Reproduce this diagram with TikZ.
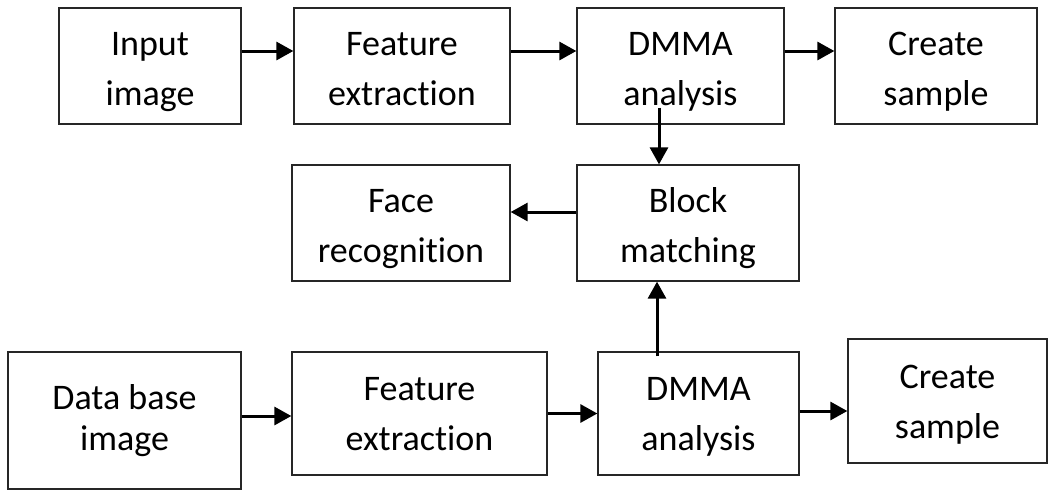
\documentclass[tikz,border=0pt]{standalone}
\usepackage{fontspec}
\setmainfont{Carlito}[Ligatures=NoCommon]
\usetikzlibrary{arrows.meta}
\begin{document}
\begin{tikzpicture}[x=1pt,y=-1pt,
  box/.style={draw=black!85, line width=1.3pt, inner sep=0pt, align=center,
    font=\fontsize{36}{50}\selectfont, text height=78pt, text depth=0pt},
  lowbox/.style={box, text height=74pt},
  arr/.style={line width=3pt, -{Triangle[length=17pt,width=18pt]}}]
\useasboundingbox (0,0) rectangle (1057,491);

% top row: input chain
\node[box, minimum width=182pt, minimum height=116pt] (in1) at (150,66) {Input\\image};
\node[box, minimum width=216pt, minimum height=116pt] (fe1) at (402,66) {Feature\\extraction};
\node[box, minimum width=207pt, minimum height=116pt] (dm1) at (680.5,66) {DMMA\\analysis};
\node[box, minimum width=202pt, minimum height=116pt] (cs1) at (936,66) {Create\\sample};

% middle row
\node[box, minimum width=218pt, minimum height=116pt] (fr) at (401,223) {Face\\recognition};
\node[box, minimum width=222pt, minimum height=116pt] (bm) at (688,223) {Block\\matching};

% bottom row: database chain
\node[box, minimum width=233pt, minimum height=137pt, font=\fontsize{36}{41}\selectfont, text height=60pt] (db) at (124.5,420.5) {Data base\\image};
\node[lowbox, minimum width=255pt, minimum height=123pt] (fe2) at (419.5,413.5) {Feature\\extraction};
\node[lowbox, minimum width=201pt, minimum height=123pt] (dm2) at (698.5,413.5) {DMMA\\analysis};
\node[lowbox, minimum width=199pt, minimum height=124pt] (cs2) at (947.5,401) {Create\\sample};

% connectors, top row
\draw[arr] ([yshift=15pt]in1.east) -- ([yshift=15pt]in1.east -| fe1.west);
\draw[arr] ([yshift=15pt]fe1.east) -- ([yshift=15pt]fe1.east -| dm1.west);
\draw[arr] ([yshift=15pt]dm1.east) -- ([yshift=15pt]dm1.east -| cs1.west);

% connectors to and from block matching
\coordinate (t1) at ([xshift=-21.5pt,yshift=17pt]dm1.south);
\draw[arr] (t1) -- (t1 |- bm.north);
\draw[arr] ([yshift=11pt]bm.west) -- ([yshift=11pt]bm.west -| fr.east);
\coordinate (t2) at ([xshift=-41.5pt,yshift=-5pt]dm2.north);
\draw[arr] (t2) -- (t2 |- bm.south);

% connectors, bottom row
\draw[arr] ([yshift=4.5pt]db.east) -- ([yshift=4.5pt]db.east -| fe2.west);
\draw[arr] (fe2.east) -- (dm2.west);
\draw[arr] ([yshift=2.5pt]dm2.east) -- ([yshift=2.5pt]dm2.east -| cs2.west);
\end{tikzpicture}
\end{document}
